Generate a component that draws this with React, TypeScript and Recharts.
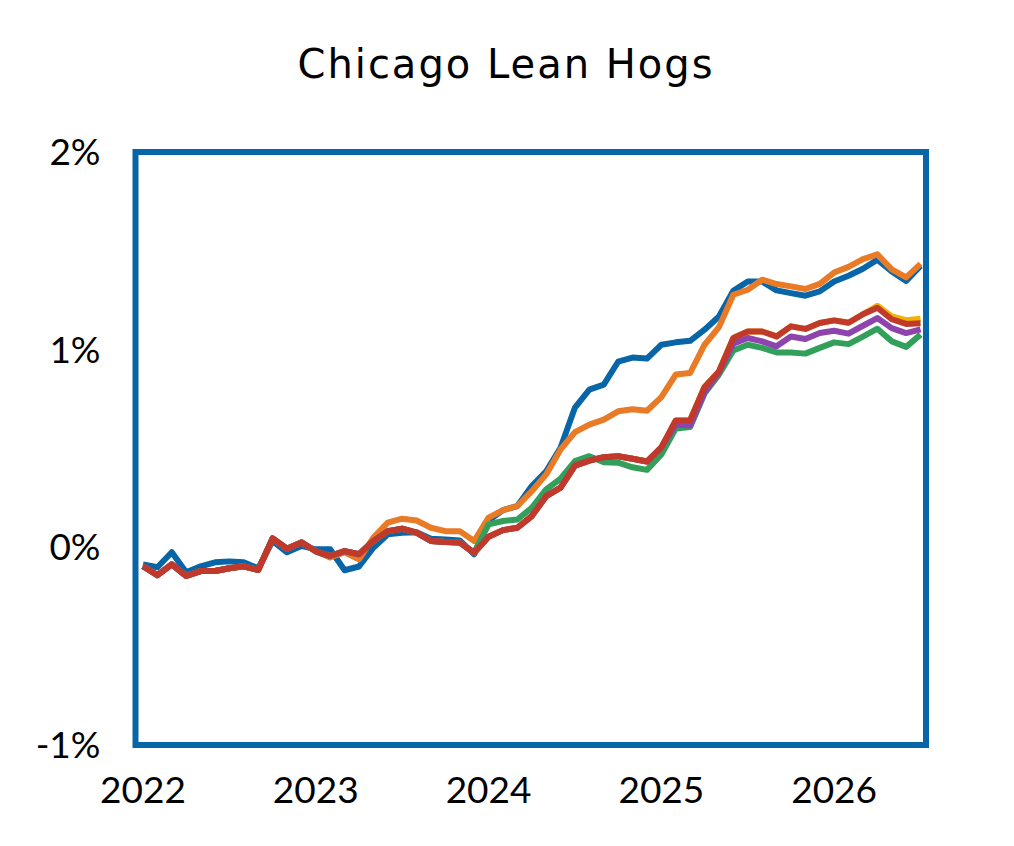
import { LineChart, Line, XAxis, YAxis, ReferenceArea } from 'recharts';

// month labels, Jan 2022 .. Jul 2026
const months = [
  '2022-01', '2022-02', '2022-03', '2022-04', '2022-05', '2022-06', '2022-07', '2022-08', '2022-09', '2022-10', '2022-11', '2022-12',
  '2023-01', '2023-02', '2023-03', '2023-04', '2023-05', '2023-06', '2023-07', '2023-08', '2023-09', '2023-10', '2023-11', '2023-12',
  '2024-01', '2024-02', '2024-03', '2024-04', '2024-05', '2024-06', '2024-07', '2024-08', '2024-09', '2024-10', '2024-11', '2024-12',
  '2025-01', '2025-02', '2025-03', '2025-04', '2025-05', '2025-06', '2025-07', '2025-08', '2025-09', '2025-10', '2025-11', '2025-12',
  '2026-01', '2026-02', '2026-03', '2026-04', '2026-05', '2026-06', '2026-07',
];

const yearLabels = ['2022', '2023', '2024', '2025', '2026'];
const yearTicks = [0, 12, 24, 36, 48];
const pctTicks = [-1, 0, 1, 2];

// values in %
const blue = [
  -0.086, -0.101, -0.025, -0.126, -0.096, -0.076, -0.071, -0.076, -0.106, 0.032,
  -0.025, 0.007, -0.01, -0.01, -0.116, -0.097, -0.002, 0.066, 0.074, 0.076,
  0.044, 0.04, 0.035, -0.035, 0.136, 0.188, 0.209, 0.31, 0.385, 0.504,
  0.707, 0.798, 0.823, 0.939, 0.96, 0.955, 1.025, 1.037, 1.045, 1.101,
  1.168, 1.298, 1.345, 1.345, 1.3, 1.286, 1.273, 1.295, 1.345, 1.374,
  1.409, 1.455, 1.396, 1.348, 1.424,
];
const orange = [
  -0.096, -0.141, -0.086, -0.145, -0.12, -0.12, -0.106, -0.096, -0.115, 0.045,
  -0.007, 0.025, -0.02, -0.051, -0.025, -0.061, 0.049, 0.125, 0.145, 0.136,
  0.099, 0.082, 0.082, 0.032, 0.15, 0.188, 0.209, 0.284, 0.369, 0.495,
  0.583, 0.621, 0.646, 0.688, 0.699, 0.691, 0.76, 0.874, 0.882, 1.025,
  1.114, 1.278, 1.303, 1.354, 1.332, 1.32, 1.307, 1.333, 1.39, 1.419,
  1.458, 1.482, 1.406, 1.366, 1.434,
];
const yellow = [
  -0.096, -0.141, -0.086, -0.145, -0.12, -0.12, -0.106, -0.096, -0.115, 0.045,
  -0.007, 0.025, -0.02, -0.044, -0.019, -0.035, 0.032, 0.082, 0.094, 0.074,
  0.032, 0.027, 0.024, -0.027, 0.054, 0.087, 0.099, 0.158, 0.259, 0.302,
  0.413, 0.439, 0.456, 0.461, 0.448, 0.434, 0.506, 0.642, 0.643, 0.811,
  0.89, 1.059, 1.092, 1.092, 1.067, 1.118, 1.105, 1.135, 1.148, 1.136,
  1.179, 1.222, 1.168, 1.149, 1.156,
];
const green = [
  -0.096, -0.141, -0.086, -0.145, -0.12, -0.12, -0.106, -0.096, -0.115, 0.045,
  -0.007, 0.025, -0.02, -0.044, -0.019, -0.035, 0.032, 0.082, 0.094, 0.074,
  0.032, 0.027, 0.024, -0.027, 0.116, 0.133, 0.141, 0.2, 0.293, 0.347,
  0.436, 0.461, 0.431, 0.428, 0.405, 0.392, 0.47, 0.601, 0.609, 0.778,
  0.874, 0.996, 1.025, 1.009, 0.986, 0.986, 0.98, 1.009, 1.037, 1.028,
  1.066, 1.106, 1.042, 1.014, 1.076,
];
const purple = [
  -0.096, -0.141, -0.086, -0.145, -0.12, -0.12, -0.106, -0.096, -0.115, 0.045,
  -0.007, 0.025, -0.02, -0.044, -0.019, -0.035, 0.032, 0.082, 0.094, 0.074,
  0.032, 0.027, 0.024, -0.027, 0.054, 0.087, 0.099, 0.158, 0.259, 0.302,
  0.413, 0.439, 0.456, 0.461, 0.448, 0.434, 0.506, 0.621, 0.616, 0.784,
  0.886, 1.03, 1.059, 1.042, 1.017, 1.067, 1.054, 1.084, 1.096, 1.081,
  1.121, 1.16, 1.109, 1.084, 1.103,
];
const red = [
  -0.096, -0.141, -0.086, -0.145, -0.12, -0.12, -0.106, -0.096, -0.115, 0.045,
  -0.007, 0.025, -0.02, -0.044, -0.019, -0.035, 0.032, 0.082, 0.094, 0.074,
  0.032, 0.027, 0.024, -0.027, 0.054, 0.087, 0.099, 0.158, 0.259, 0.302,
  0.413, 0.439, 0.456, 0.461, 0.448, 0.434, 0.506, 0.642, 0.643, 0.811,
  0.89, 1.059, 1.092, 1.092, 1.067, 1.118, 1.105, 1.135, 1.148, 1.136,
  1.179, 1.212, 1.154, 1.13, 1.134,
];

const data = months.map((label, i) => ({
  m: i,
  label,
  blue: blue[i],
  orange: orange[i],
  yellow: yellow[i],
  green: green[i],
  purple: purple[i],
  red: red[i],
}));

const series = [
  { key: 'blue', color: '#0866a8' },
  { key: 'orange', color: '#e97a26' },
  { key: 'yellow', color: '#f1b300' },
  { key: 'green', color: '#32a05b' },
  { key: 'purple', color: '#8e44ad' },
  { key: 'red', color: '#c0392b' },
];

const FONT = 'Lato, "DejaVu Sans", sans-serif';
const X_MIN = -0.52;
const X_MAX = 54.38;

export default function App() {
  return (
    <div style={{ position: 'absolute', left: 0, top: 0, width: 1014, height: 846, background: '#fff' }}>
      <div
        style={{
          position: 'absolute',
          left: 0,
          width: 1012,
          top: 36,
          textAlign: 'center',
          fontFamily: '"DejaVu Sans", sans-serif',
          fontSize: 40,
          letterSpacing: 2,
          color: '#000',
          lineHeight: '56px',
        }}
      >
        Chicago Lean Hogs
      </div>
      <LineChart
        width={1014}
        height={846}
        data={data}
        margin={{ top: 152, right: 88, bottom: 41, left: 35.5 }}
        style={{ fontFamily: FONT }}
      >
        <XAxis
          dataKey="m"
          type="number"
          domain={[X_MIN, X_MAX]}
          ticks={yearTicks}
          tickFormatter={(v: number) => yearLabels[yearTicks.indexOf(v)]}
          axisLine={false}
          tickLine={false}
          tickSize={0}
          tickMargin={32}
          height={60}
          tick={{ fill: '#000', fontSize: 37 }}
          interval={0}
        />
        <YAxis
          type="number"
          domain={[-1, 2]}
          ticks={pctTicks}
          tickFormatter={(v: number) => `${v}%`}
          axisLine={false}
          tickLine={false}
          tickSize={0}
          tickMargin={35}
          width={100}
          tick={{ fill: '#000', fontSize: 37 }}
          interval={0}
        />
        <ReferenceArea
          x1={X_MIN}
          x2={X_MAX}
          y1={-1}
          y2={2}
          fill="none"
          fillOpacity={0}
          stroke="#0866a8"
          strokeWidth={6}
          ifOverflow="visible"
        />
        {series.map((s) => (
          <Line
            key={s.key}
            dataKey={s.key}
            stroke={s.color}
            strokeWidth={6}
            strokeLinejoin="round"
            dot={false}
            activeDot={false}
            isAnimationActive={false}
            type="linear"
          />
        ))}
      </LineChart>
    </div>
  );
}
